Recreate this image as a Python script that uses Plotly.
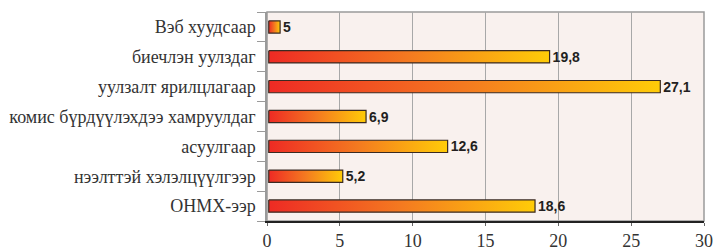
import plotly.graph_objects as go

categories = ["Вэб хуудсаар", "биечлэн уулздаг", "уулзалт ярилцлагаар",
              "комис бүрдүүлэхдээ хамруулдаг", "асуулгаар",
              "нээлттэй хэлэлцүүлгээр", "ОНМХ-ээр"]
bar_values = [0.9, 19.4, 27.0, 6.8, 12.4, 5.2, 18.4]
value_labels = ["5", "19,8", "27,1", "6,9", "12,6", "5,2", "18,6"]
x_ticks = [0, 5, 10, 15, 20, 25, 30]

grad = [[0, "#ee2a24"], [0.5, "#f47a20"], [1, "#ffcc08"]]
half = 0.205

fig = go.Figure()
positions = list(range(len(categories)))
for pos, v in zip(positions, bar_values):
    fig.add_trace(go.Scatter(
        x=[0.12, v, v, 0.12, 0.12],
        y=[pos - half, pos - half, pos + half, pos + half, pos - half],
        mode="lines", line=dict(width=1.2, color="#3a2a22"), fill="toself",
        fillgradient=dict(type="horizontal", colorscale=grad),
        hoverinfo="skip", showlegend=False))

fig.add_trace(go.Bar(
    x=bar_values, y=positions, orientation="h", width=0.41,
    marker=dict(color="rgba(0,0,0,0)", line=dict(width=0)),
    text=value_labels, textposition="outside", cliponaxis=False,
    constraintext="none",
    textfont=dict(family="Liberation Sans, Arial, sans-serif", size=14,
                  color="#231f20", weight="bold"),
    hoverinfo="skip", showlegend=False))

fig.update_layout(
    width=720, height=251,
    margin=dict(l=267, r=16, t=12, b=30, autoexpand=False),
    paper_bgcolor="white", plot_bgcolor="#f9f1ee",
    font=dict(family="Liberation Serif, Times New Roman, serif", color="#333333"),
    bargap=0.5,
    shapes=[dict(type="rect", xref="paper", yref="paper", x0=0, x1=1, y0=0, y1=1,
                 line=dict(color="#9a9a9a", width=1.5), layer="below")],
)
fig.update_xaxes(
    range=[0, 30], tickvals=x_ticks, ticktext=[str(t) for t in x_ticks],
    showgrid=True, gridcolor="#a8a8a8", gridwidth=1.2,
    showline=True, linecolor="#222222", linewidth=1.5,
    ticks="outside", ticklen=3, tickcolor="#666666", automargin=False,
    tickfont=dict(size=18, color="#333333"), zeroline=False)
fig.update_yaxes(
    range=[len(categories) - 0.5, -0.5], tickvals=positions, ticktext=categories,
    ticks="", showgrid=False, zeroline=False, automargin=False,
    showline=True, linecolor="#9a9a9a", linewidth=1.5, ticklabelstandoff=6,
    tickfont=dict(size=18, color="#333333"),
    minor=dict(tickmode="linear", tick0=0.5, dtick=1, ticks="outside",
               ticklen=8, tickcolor="#9a9a9a", showgrid=False))

fig.write_html("out.html", config={"displayModeBar": False},
               post_script="document.body.style.margin='0';document.body.style.overflow='hidden';")
